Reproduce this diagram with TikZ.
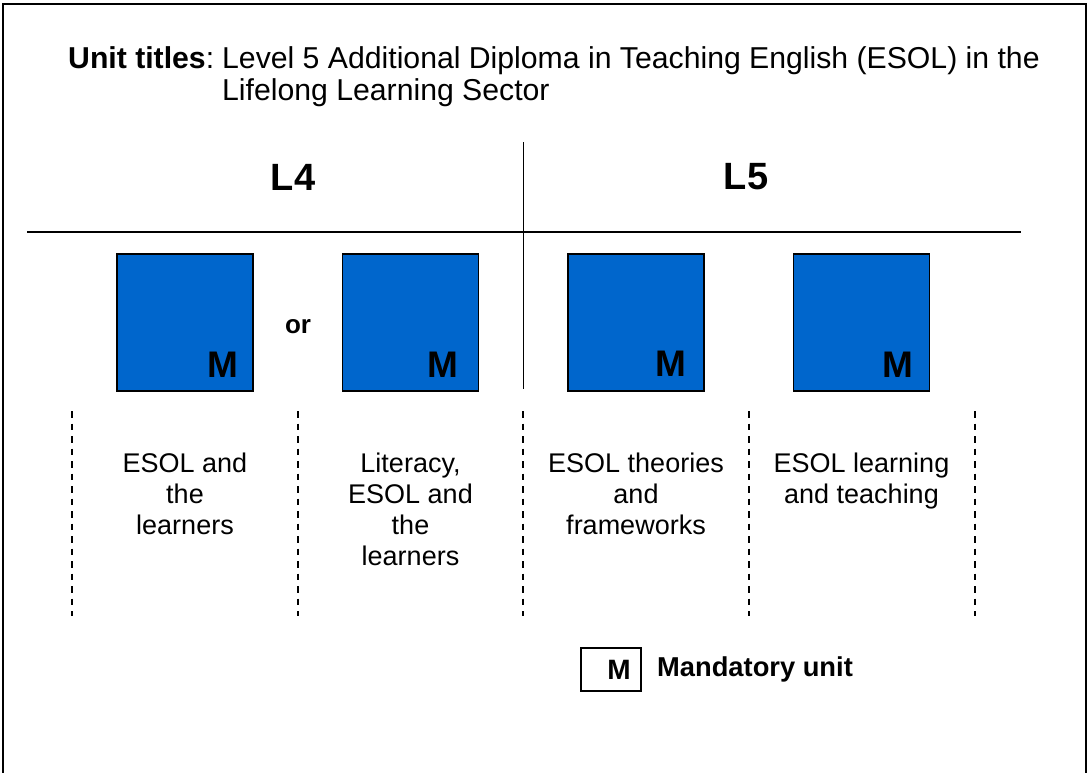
\documentclass[tikz,border=0pt]{standalone}
\usepackage{fontspec}
\setmainfont{Liberation Sans}
\usepackage{tikz}
\usetikzlibrary{positioning}
\definecolor{unitblue}{RGB}{0,102,204}

\begin{document}
\begin{tikzpicture}[x=1pt, y=-1pt, node distance=225.5pt,
		unit node/.style={rectangle,draw,fill=unitblue,line width=1.2pt,minimum width=136pt,minimum height=137pt,inner sep=0pt},
		mark node/.style={font=\fontsize{37}{40}\selectfont\bfseries,inner sep=0pt,anchor=south east},
		title node/.style={font=\fontsize{30.2}{32}\selectfont,inner sep=0pt,anchor=base west},
		level node/.style={font=\fontsize{38}{40}\selectfont\bfseries,inner sep=0pt},
		name node/.style={font=\fontsize{27}{31}\selectfont,align=center,inner sep=0pt},
		key node/.style={font=\fontsize{27.3}{30}\selectfont\bfseries,inner sep=0pt},
		divider/.style={dash pattern=on 6.5pt off 6pt,line width=1.4pt}]
		
		\useasboundingbox (0,0) rectangle (1089,772);
		\draw[line width=2pt] (3,4) rectangle (1086,800);
		
		% title
		\node[title node] (ttl) at (68,68) {\textbf{Unit titles}:};
		\node[title node] (ttl1) at (222,68) {Level 5 Additional Diploma in Teaching English (ESOL) in the};
		\node[title node] (ttl2) at ([yshift=-32pt]ttl1.base west) {Lifelong Learning Sector};
		
		% levels
		\node[level node] (l4) at (293,177) {L4};
		\node[level node] (l5) at (746,177) {L5};
		\draw[line width=1.5pt] (27,232) -- (1021,232);
		\draw[line width=1pt] (523,142) -- (523,389);
		
		% units
		\node[unit node] (1) at (185,322.5) {};
		\node[unit node] (2) [right of=1] {};
		\node[unit node] (3) [right of=2] {};
		\node[unit node] (4) [right of=3] {};
		\node[mark node] (m1) at ([xshift=-15pt,yshift=14pt]1.south east) {M};
		\node[mark node] (m2) at ([xshift=-21pt,yshift=14pt]2.south east) {M};
		\node[mark node] (m3) at ([xshift=-18pt,yshift=15pt]3.south east) {M};
		\node[mark node] (m4) at ([xshift=-17pt,yshift=14pt]4.south east) {M};
		\node[font=\fontsize{26}{28}\selectfont\bfseries,inner sep=0pt] (or) at (298,327) {or};
		
		\foreach \x in {72,298,523,749,975}
		\draw[divider] (\x,411) -- (\x,616);
		
		\node[name node,below=61pt of 1] (n1) {ESOL and\\the\\learners};
		\node[name node,below=61pt of 2] (n2) {Literacy,\\ESOL and\\the\\learners};
		\node[name node,below=61pt of 3] (n3) {ESOL theories\\and\\frameworks};
		\node[name node,below=61pt of 4] (n4) {ESOL learning\\and teaching};
		
		% key
		\node[draw,line width=1.5pt,minimum width=60pt,minimum height=43pt,inner sep=0pt] (key) at (611,669.5) {};
		\node[key node,font=\fontsize{28}{30}\selectfont\bfseries] (km) at (619,669.5) {M};
		\node[key node,anchor=west] (kt) at (657,669.5) {Mandatory unit};
\end{tikzpicture}
\end{document}
